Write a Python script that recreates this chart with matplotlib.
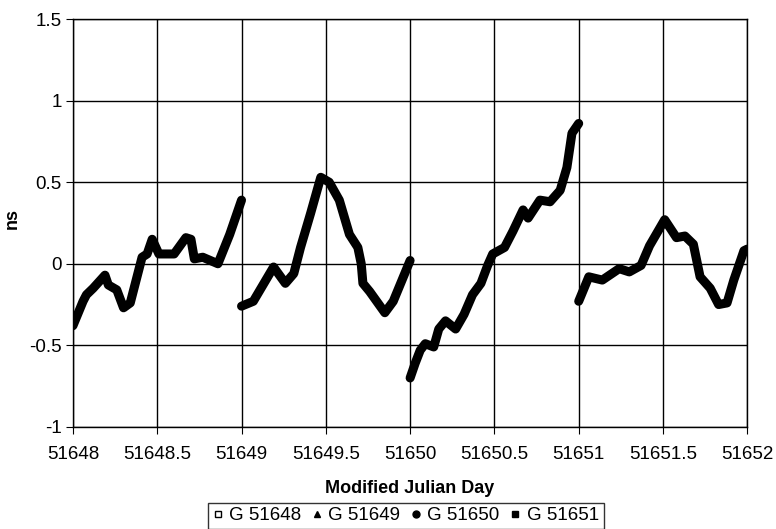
import matplotlib
matplotlib.use("Agg")
import matplotlib.pyplot as plt
from matplotlib.lines import Line2D

plt.rcParams["font.family"] = ["Liberation Sans", "DejaVu Sans"]

# data (MJD, ns)
mjd_48 = [51648.0, 51648.06, 51648.08, 51648.12, 51648.19, 51648.21, 51648.26, 51648.30,
          51648.34, 51648.41, 51648.44, 51648.47, 51648.51, 51648.60, 51648.67, 51648.70,
          51648.72, 51648.77, 51648.86, 51648.93, 51649.0]
ns_48 = [-0.38, -0.23, -0.19, -0.15, -0.07, -0.13, -0.16, -0.27,
         -0.24, 0.04, 0.06, 0.15, 0.06, 0.06, 0.16, 0.15,
         0.03, 0.04, 0.0, 0.18, 0.39]

mjd_49 = [51649.0, 51649.07, 51649.19, 51649.26, 51649.31, 51649.35, 51649.41, 51649.47,
          51649.52, 51649.58, 51649.64, 51649.69, 51649.71, 51649.72, 51649.76, 51649.85,
          51649.90, 51650.0]
ns_49 = [-0.26, -0.23, -0.02, -0.12, -0.06, 0.10, 0.31, 0.53,
         0.50, 0.39, 0.18, 0.10, 0.0, -0.12, -0.17, -0.30,
         -0.23, 0.02]

mjd_50 = [51650.0, 51650.03, 51650.06, 51650.09, 51650.14, 51650.17, 51650.21, 51650.27,
          51650.32, 51650.37, 51650.42, 51650.46, 51650.49, 51650.56, 51650.61, 51650.67,
          51650.70, 51650.77, 51650.83, 51650.89, 51650.93, 51650.96, 51651.0]
ns_50 = [-0.70, -0.61, -0.53, -0.49, -0.51, -0.40, -0.35, -0.40,
         -0.31, -0.19, -0.12, -0.01, 0.06, 0.10, 0.20, 0.33,
         0.28, 0.39, 0.38, 0.45, 0.59, 0.80, 0.86]

mjd_51 = [51651.0, 51651.06, 51651.14, 51651.24, 51651.30, 51651.37, 51651.42, 51651.51,
          51651.58, 51651.63, 51651.68, 51651.72, 51651.78, 51651.83, 51651.88, 51651.92,
          51651.98, 51652.0]
ns_51 = [-0.23, -0.08, -0.10, -0.03, -0.05, -0.01, 0.11, 0.27,
         0.16, 0.17, 0.12, -0.08, -0.15, -0.25, -0.24, -0.10,
         0.08, 0.09]

labels = ["G 51648", "G 51649", "G 51650", "G 51651"]
markers = ["s", "^", "o", "s"]
faces = ["white", "black", "black", "black"]

fig = plt.figure(figsize=(7.76, 5.29), dpi=100)
ax = fig.add_axes([0.094, 0.193, 0.869, 0.771])

for x, y in [(mjd_48, ns_48), (mjd_49, ns_49), (mjd_50, ns_50), (mjd_51, ns_51)]:
    ax.plot(x, y, color="black", lw=6.5, solid_joinstyle="round", solid_capstyle="round", zorder=3)

ax.set_xlim(51648, 51652)
ax.set_ylim(-1, 1.5)
ax.set_xticks([51648 + 0.5 * i for i in range(9)])
ax.set_xticklabels(["51648", "51648.5", "51649", "51649.5", "51650",
                    "51650.5", "51651", "51651.5", "51652"])
ax.set_yticks([-1, -0.5, 0, 0.5, 1, 1.5])
ax.set_yticklabels(["-1", "-0.5", "0", "0.5", "1", "1.5"])
ax.grid(True, color="black", lw=1.0)
ax.tick_params(labelsize=13.5, length=5, color="black")
ax.tick_params(axis="x", pad=9)
ax.tick_params(axis="y", pad=3)
for s in ax.spines.values():
    s.set_linewidth(1.0)

ax.set_xlabel("Modified Julian Day", fontsize=13, fontweight="bold", labelpad=12)
ax.set_ylabel("ns", fontsize=13, fontweight="bold")
ax.yaxis.set_label_coords(-0.078, 0.51)

handles = [Line2D([], [], ls="none", marker=m, ms=5, mfc=f, mec="black", mew=1)
           for m, f in zip(markers, faces)]
leg = fig.legend(handles, labels, loc="lower center", bbox_to_anchor=(0.523, 0.0),
                 borderaxespad=0, ncol=4, fontsize=13.5, frameon=True, fancybox=False,
                 edgecolor="black", handlelength=0.5, handletextpad=0.35,
                 columnspacing=0.6, borderpad=0.25)
leg.get_frame().set_linewidth(1.0)

fig.savefig("out.png", dpi=100)
